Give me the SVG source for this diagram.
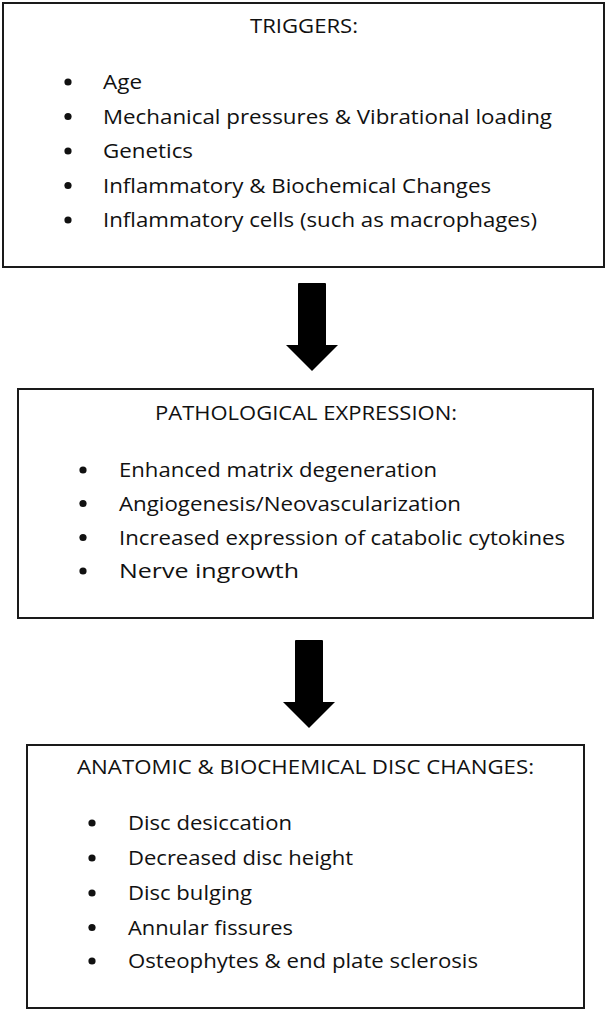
<svg xmlns="http://www.w3.org/2000/svg" width="608" height="1013" viewBox="0 0 608 1013">
<style>
.box{fill:#fff;stroke:#1a1a1a;stroke-width:2}
.t{font-family:"Open Sans","Noto Sans","Liberation Sans",sans-serif;font-size:20px;fill:#111}
.b{fill:#111}
.arr{fill:#000}
</style>
<rect width="608" height="1013" fill="#fff"/>
<g id="triggers">
<rect class="box" x="3" y="3" width="601" height="264"/>
<text class="t" x="250" y="33" textLength="108" lengthAdjust="spacingAndGlyphs">TRIGGERS:</text>
<circle class="b" cx="68" cy="82" r="3.6"/>
<text class="t" x="103" y="89" textLength="39" lengthAdjust="spacingAndGlyphs">Age</text>
<circle class="b" cx="68" cy="116.5" r="3.6"/>
<text class="t" x="103" y="123.5" textLength="449" lengthAdjust="spacingAndGlyphs">Mechanical pressures &amp; Vibrational loading</text>
<circle class="b" cx="68" cy="151" r="3.6"/>
<text class="t" x="103" y="158" textLength="90" lengthAdjust="spacingAndGlyphs">Genetics</text>
<circle class="b" cx="68" cy="185.5" r="3.6"/>
<text class="t" x="103" y="192.5" textLength="388" lengthAdjust="spacingAndGlyphs">Inflammatory &amp; Biochemical Changes</text>
<circle class="b" cx="68" cy="220" r="3.6"/>
<text class="t" x="103" y="227" textLength="434" lengthAdjust="spacingAndGlyphs">Inflammatory cells (such as macrophages)</text>
</g>
<g id="pathological">
<rect class="box" x="18" y="389" width="575" height="229"/>
<text class="t" x="155" y="420" textLength="302" lengthAdjust="spacingAndGlyphs">PATHOLOGICAL EXPRESSION:</text>
<circle class="b" cx="83" cy="470" r="3.6"/>
<text class="t" x="119" y="477" textLength="318" lengthAdjust="spacingAndGlyphs">Enhanced matrix degeneration</text>
<circle class="b" cx="83" cy="503.5" r="3.6"/>
<text class="t" x="119" y="510.5" textLength="342" lengthAdjust="spacingAndGlyphs">Angiogenesis/Neovascularization</text>
<circle class="b" cx="83" cy="537.5" r="3.6"/>
<text class="t" x="119" y="544.5" textLength="446" lengthAdjust="spacingAndGlyphs">Increased expression of catabolic cytokines</text>
<circle class="b" cx="83" cy="571" r="3.6"/>
<text class="t" x="119" y="578" textLength="180" lengthAdjust="spacingAndGlyphs">Nerve ingrowth</text>
</g>
<g id="anatomic">
<rect class="box" x="27" y="745" width="557" height="263"/>
<text class="t" x="77" y="774" textLength="457" lengthAdjust="spacingAndGlyphs">ANATOMIC &amp; BIOCHEMICAL DISC CHANGES:</text>
<circle class="b" cx="92" cy="823" r="3.6"/>
<text class="t" x="128" y="830" textLength="164" lengthAdjust="spacingAndGlyphs">Disc desiccation</text>
<circle class="b" cx="92" cy="858" r="3.6"/>
<text class="t" x="128" y="865" textLength="225" lengthAdjust="spacingAndGlyphs">Decreased disc height</text>
<circle class="b" cx="92" cy="893" r="3.6"/>
<text class="t" x="128" y="900" textLength="124" lengthAdjust="spacingAndGlyphs">Disc bulging</text>
<circle class="b" cx="92" cy="927.5" r="3.6"/>
<text class="t" x="128" y="934.5" textLength="165" lengthAdjust="spacingAndGlyphs">Annular fissures</text>
<circle class="b" cx="92" cy="961" r="3.6"/>
<text class="t" x="128" y="968" textLength="350" lengthAdjust="spacingAndGlyphs">Osteophytes &amp; end plate sclerosis</text>
</g>
<g id="connectors">
<path class="arr" d="M298,284 Q298,283 299,283 L325,283 Q326,283 326,284 L326,345 L338,345 L312,371 L286,345 L298,345 Z"/>
<path class="arr" d="M295,641 Q295,640 296,640 L322,640 Q323,640 323,641 L323,702 L335,702 L309,728 L283,702 L295,702 Z"/>
</g>
</svg>
